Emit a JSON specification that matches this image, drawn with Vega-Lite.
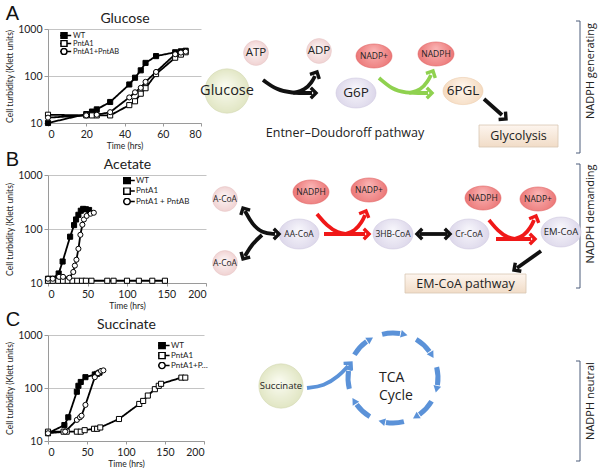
{
"$schema":"https://vega.github.io/schema/vega-lite/v6.json",
"padding":{"left":5,"top":4,"right":0,"bottom":0},
"config":{"view":{"stroke":null},"font":"Lato",
 "axis":{"labelFont":"Lato","titleFont":"Lato","labelColor":"#222","titleColor":"#222","titleFontWeight":"normal","domainColor":"#9a9a9a","tickColor":"#9a9a9a","gridColor":"#c4c4c4"},
 "legend":{"labelFont":"Lato","labelColor":"#222"}},
"datasets":{
 "glucose":[
  {"s":"WT","t":0,"v":10},{"s":"WT","t":20,"v":15.5},{"s":"WT","t":23,"v":17.5},{"s":"WT","t":25.5,"v":19.5},{"s":"WT","t":32.5,"v":28},{"s":"WT","t":42.5,"v":66},{"s":"WT","t":45.5,"v":92},{"s":"WT","t":48.5,"v":132},{"s":"WT","t":51,"v":190},{"s":"WT","t":56.5,"v":265},{"s":"WT","t":66.5,"v":320},{"s":"WT","t":69.5,"v":335},{"s":"WT","t":72,"v":345},
  {"s":"PntA1","t":0,"v":15},{"s":"PntA1","t":20,"v":14.5},{"s":"PntA1","t":23,"v":14.5},{"s":"PntA1","t":25.5,"v":14.5},{"s":"PntA1","t":32.5,"v":14.5},{"s":"PntA1","t":42.5,"v":24},{"s":"PntA1","t":45.5,"v":29},{"s":"PntA1","t":48.5,"v":42},{"s":"PntA1","t":51,"v":55},{"s":"PntA1","t":56.5,"v":110},{"s":"PntA1","t":66.5,"v":245},{"s":"PntA1","t":69.5,"v":285},{"s":"PntA1","t":72,"v":320},
  {"s":"PntA1+PntAB","t":0,"v":13},{"s":"PntA1+PntAB","t":20,"v":14.5},{"s":"PntA1+PntAB","t":25.5,"v":15},{"s":"PntA1+PntAB","t":32.5,"v":17},{"s":"PntA1+PntAB","t":42.5,"v":35},{"s":"PntA1+PntAB","t":45.5,"v":45},{"s":"PntA1+PntAB","t":48.5,"v":56},{"s":"PntA1+PntAB","t":51,"v":75},{"s":"PntA1+PntAB","t":56.5,"v":122},{"s":"PntA1+PntAB","t":66.5,"v":290},{"s":"PntA1+PntAB","t":69.5,"v":315},{"s":"PntA1+PntAB","t":72,"v":330}],
 "acetate":[
  {"s":"WT","t":0,"v":12},{"s":"WT","t":6,"v":12},{"s":"WT","t":13.5,"v":15},{"s":"WT","t":18.5,"v":25},{"s":"WT","t":28,"v":72},{"s":"WT","t":33,"v":118},{"s":"WT","t":35.5,"v":150},{"s":"WT","t":38.5,"v":183},{"s":"WT","t":41.5,"v":218},{"s":"WT","t":44.5,"v":236},{"s":"WT","t":48,"v":232},{"s":"WT","t":52,"v":225},
  {"s":"PntA1","t":0,"v":11},{"s":"PntA1","t":6,"v":11},{"s":"PntA1","t":13,"v":11},{"s":"PntA1","t":19,"v":11},{"s":"PntA1","t":25,"v":11},{"s":"PntA1","t":31,"v":11},{"s":"PntA1","t":37,"v":11},{"s":"PntA1","t":43,"v":11},{"s":"PntA1","t":48,"v":11},{"s":"PntA1","t":55,"v":11},{"s":"PntA1","t":75,"v":11},{"s":"PntA1","t":83,"v":11},{"s":"PntA1","t":100,"v":11},{"s":"PntA1","t":115,"v":11},{"s":"PntA1","t":132,"v":11},{"s":"PntA1","t":148,"v":11},
  {"s":"PntA1 + PntAB","t":0,"v":12},{"s":"PntA1 + PntAB","t":6,"v":12},{"s":"PntA1 + PntAB","t":14,"v":13},{"s":"PntA1 + PntAB","t":19,"v":13},{"s":"PntA1 + PntAB","t":27,"v":12.5},{"s":"PntA1 + PntAB","t":32,"v":16},{"s":"PntA1 + PntAB","t":34,"v":21},{"s":"PntA1 + PntAB","t":36,"v":27},{"s":"PntA1 + PntAB","t":38.5,"v":43},{"s":"PntA1 + PntAB","t":41,"v":78},{"s":"PntA1 + PntAB","t":43.5,"v":120},{"s":"PntA1 + PntAB","t":45.5,"v":150},{"s":"PntA1 + PntAB","t":49,"v":175},{"s":"PntA1 + PntAB","t":54,"v":192},{"s":"PntA1 + PntAB","t":58,"v":200}],
 "succinate":[
  {"s":"WT","t":0,"v":14},{"s":"WT","t":21,"v":20},{"s":"WT","t":26,"v":28},{"s":"WT","t":37,"v":85},{"s":"WT","t":39,"v":110},{"s":"WT","t":42,"v":130},{"s":"WT","t":48,"v":160},{"s":"WT","t":60,"v":180},{"s":"WT","t":63,"v":185},{"s":"WT","t":66,"v":195},
  {"s":"PntA1","t":0,"v":15},{"s":"PntA1","t":20,"v":15},{"s":"PntA1","t":24,"v":15},{"s":"PntA1","t":37,"v":15},{"s":"PntA1","t":42,"v":15},{"s":"PntA1","t":47,"v":16},{"s":"PntA1","t":59,"v":17},{"s":"PntA1","t":63,"v":17},{"s":"PntA1","t":67,"v":18},{"s":"PntA1","t":91,"v":26},{"s":"PntA1","t":117,"v":50},{"s":"PntA1","t":122,"v":57},{"s":"PntA1","t":128,"v":72},{"s":"PntA1","t":137,"v":95},{"s":"PntA1","t":142,"v":110},{"s":"PntA1","t":145,"v":120},{"s":"PntA1","t":171,"v":157},{"s":"PntA1","t":176,"v":157},
  {"s":"PntA1+PntAB","t":0,"v":14},{"s":"PntA1+PntAB","t":22,"v":15},{"s":"PntA1+PntAB","t":37,"v":25},{"s":"PntA1+PntAB","t":41,"v":28},{"s":"PntA1+PntAB","t":43,"v":30},{"s":"PntA1+PntAB","t":48,"v":48},{"s":"PntA1+PntAB","t":60,"v":160},{"s":"PntA1+PntAB","t":64,"v":190},{"s":"PntA1+PntAB","t":68,"v":210},{"s":"PntA1+PntAB","t":71,"v":215}],
 "nodes":[
  {"name":"Glucose","kind":"substrate","x":226,"y":90},
  {"name":"ATP","kind":"energy","x":255,"y":52},
  {"name":"ADP","kind":"energy","x":318,"y":50},
  {"name":"NADP+","kind":"redox","x":373,"y":55},
  {"name":"NADPH","kind":"redox","x":435,"y":53},
  {"name":"G6P","kind":"intermediate","x":355,"y":92},
  {"name":"6PGL","kind":"product","x":462,"y":90},
  {"name":"A-CoA","kind":"energy","x":224,"y":198},
  {"name":"A-CoA","kind":"energy","x":224,"y":262},
  {"name":"AA-CoA","kind":"intermediate","x":298,"y":233},
  {"name":"NADPH","kind":"redox","x":310,"y":191},
  {"name":"NADP+","kind":"redox","x":368,"y":189},
  {"name":"3HB-CoA","kind":"intermediate","x":392,"y":233},
  {"name":"Cr-CoA","kind":"intermediate","x":468,"y":233},
  {"name":"NADPH","kind":"redox","x":482,"y":197},
  {"name":"NADP+","kind":"redox","x":537,"y":198},
  {"name":"EM-CoA","kind":"intermediate","x":560,"y":231},
  {"name":"Succinate","kind":"substrate","x":280,"y":385}],
 "arrows":[
  {"id":"b1","cls":"black","o":0,"x":262,"y":79},{"id":"b1","cls":"black","o":1,"x":276,"y":89},{"id":"b1","cls":"black","o":2,"x":290,"y":92},{"id":"b1","cls":"black","o":3,"x":311,"y":92},
  {"id":"b2","cls":"black","o":0,"x":292,"y":92},{"id":"b2","cls":"black","o":1,"x":304,"y":89},{"id":"b2","cls":"black","o":2,"x":311,"y":81},{"id":"b2","cls":"black","o":3,"x":314,"y":75},
  {"id":"b3","cls":"black","o":0,"x":483,"y":98},{"id":"b3","cls":"black","o":1,"x":501,"y":114},
  {"id":"b4","cls":"black","o":0,"x":244,"y":210},{"id":"b4","cls":"black","o":1,"x":251,"y":223},{"id":"b4","cls":"black","o":2,"x":261,"y":232},{"id":"b4","cls":"black","o":3,"x":274,"y":233},
  {"id":"b5","cls":"black","o":0,"x":244,"y":255},{"id":"b5","cls":"black","o":1,"x":251,"y":243},{"id":"b5","cls":"black","o":2,"x":261,"y":234},
  {"id":"b6","cls":"black","o":0,"x":419,"y":233},{"id":"b6","cls":"black","o":1,"x":446,"y":233},
  {"id":"b7","cls":"black","o":0,"x":540,"y":250},{"id":"b7","cls":"black","o":1,"x":516,"y":267},
  {"id":"r1","cls":"red","o":0,"x":323,"y":233},{"id":"r1","cls":"red","o":1,"x":364,"y":233},
  {"id":"r2","cls":"red","o":0,"x":316,"y":213},{"id":"r2","cls":"red","o":1,"x":326,"y":225},{"id":"r2","cls":"red","o":2,"x":337,"y":232},{"id":"r2","cls":"red","o":3,"x":346,"y":233},
  {"id":"r3","cls":"red","o":0,"x":344,"y":233},{"id":"r3","cls":"red","o":1,"x":354,"y":230},{"id":"r3","cls":"red","o":2,"x":361,"y":221},{"id":"r3","cls":"red","o":3,"x":364,"y":214},
  {"id":"r4","cls":"red","o":0,"x":495,"y":238},{"id":"r4","cls":"red","o":1,"x":530,"y":238},
  {"id":"r5","cls":"red","o":0,"x":488,"y":219},{"id":"r5","cls":"red","o":1,"x":497,"y":230},{"id":"r5","cls":"red","o":2,"x":507,"y":237},{"id":"r5","cls":"red","o":3,"x":515,"y":238},
  {"id":"r6","cls":"red","o":0,"x":513,"y":238},{"id":"r6","cls":"red","o":1,"x":523,"y":235},{"id":"r6","cls":"red","o":2,"x":530,"y":226},{"id":"r6","cls":"red","o":3,"x":533,"y":219},
  {"id":"g1","cls":"green","o":0,"x":378,"y":77},{"id":"g1","cls":"green","o":1,"x":391,"y":88},{"id":"g1","cls":"green","o":2,"x":403,"y":92},{"id":"g1","cls":"green","o":3,"x":427,"y":92},
  {"id":"g2","cls":"green","o":0,"x":408,"y":92},{"id":"g2","cls":"green","o":1,"x":420,"y":89},{"id":"g2","cls":"green","o":2,"x":427,"y":80},{"id":"g2","cls":"green","o":3,"x":430,"y":74},
  {"id":"u1","cls":"blue","o":0,"x":306,"y":387},{"id":"u1","cls":"blue","o":1,"x":323,"y":385},{"id":"u1","cls":"blue","o":2,"x":338,"y":375},{"id":"u1","cls":"blue","o":3,"x":347,"y":365}],
 "heads":[
  {"cls":"black","x":315,"y":92,"ang":90},{"cls":"black","x":316,"y":71,"ang":27},{"cls":"black","x":505,"y":118,"ang":131},
  {"cls":"black","x":242,"y":207,"ang":332},{"cls":"black","x":278,"y":233,"ang":90},{"cls":"black","x":242,"y":258,"ang":210},
  {"cls":"black","x":416,"y":233,"ang":270},{"cls":"black","x":449,"y":233,"ang":90},{"cls":"black","x":513,"y":269,"ang":235},
  {"cls":"red","x":368,"y":233,"ang":90},{"cls":"red","x":365,"y":210,"ang":23},{"cls":"red","x":534,"y":238,"ang":90},{"cls":"red","x":535,"y":215,"ang":23},
  {"cls":"green","x":431,"y":92,"ang":90},{"cls":"green","x":432,"y":70,"ang":27},
  {"cls":"blue","x":350,"y":362,"ang":42}],
 "cycle":[
  {"x":392,"y":377,"a0":-14,"a1":9},{"x":392,"y":377,"a0":31,"a1":54},{"x":392,"y":377,"a0":76,"a1":99},{"x":392,"y":377,"a0":121,"a1":144},
  {"x":392,"y":377,"a0":166,"a1":189},{"x":392,"y":377,"a0":211,"a1":234},{"x":392,"y":377,"a0":256,"a1":279},{"x":392,"y":377,"a0":301,"a1":324}],
 "cycleHeads":[
  {"x":402.1,"y":333.2,"ang":103},{"x":430.2,"y":353.2,"ang":148},{"x":435.8,"y":387.1,"ang":193},{"x":415.8,"y":415.2,"ang":238},
  {"x":381.9,"y":420.8,"ang":283},{"x":353.8,"y":400.8,"ang":328},{"x":348.2,"y":366.9,"ang":13},{"x":368.2,"y":338.8,"ang":58}],
 "boxes":[
  {"t":"Glycolysis","x":478,"x2":557,"y":124,"y2":146,"cx":517.5,"cy":135},
  {"t":"EM-CoA pathway","x":404,"x2":525,"y":273,"y2":292,"cx":464.5,"cy":282.5}],
 "brackets":[
  {"id":1,"o":0,"x":575,"y":20},{"id":1,"o":1,"x":579,"y":20},{"id":1,"o":2,"x":579,"y":152},{"id":1,"o":3,"x":575,"y":152},
  {"id":2,"o":0,"x":575,"y":163},{"id":2,"o":1,"x":579,"y":163},{"id":2,"o":2,"x":579,"y":287},{"id":2,"o":3,"x":575,"y":287},
  {"id":3,"o":0,"x":575,"y":360},{"id":3,"o":1,"x":579,"y":360},{"id":3,"o":2,"x":579,"y":460},{"id":3,"o":3,"x":575,"y":460}],
 "bracketText":[
  {"t":"NADPH generating","x":590,"y":70},{"t":"NADPH demanding","x":590,"y":213},{"t":"NADPH neutral","x":590,"y":400}],
 "freeText":[
  {"t":"Entner–Doudoroff pathway","x":344,"y":132}],
 "tca":[{"t":"TCA\nCycle","x":378,"y":377}]
},
"spacing":-8,
"hconcat":[
 {"vconcat":[
  {"width":153,"height":94,
   "title":{"text":"A","anchor":"start","frame":"bounds","fontSize":20,"font":"Liberation Sans","fontWeight":"normal","color":"#111","offset":-13},
   "data":{"name":"glucose"},
   "resolve":{"axis":{"x":"independent"}},
   "layer":[
    {"mark":{"type":"line","color":"#000","strokeWidth":1.8},
     "encoding":{
      "x":{"field":"t","type":"quantitative","scale":{"domain":[0,80]},"axis":{"values":[0,20,40,60,80],"title":"Time (hrs)","grid":false,"tickSize":3,"labelPadding":3,"labelFontSize":10.5,"titleFontSize":8.5,"titlePadding":2}},
      "y":{"field":"v","type":"quantitative","scale":{"type":"log","domain":[10,1000]},"axis":{"values":[10,100,1000],"format":"d","title":"Cell turbidity (Klett units)","grid":true,"tickSize":4,"labelPadding":2,"labelFontSize":10.5,"titleFontSize":8.5,"titlePadding":3}},
      "detail":{"field":"s"},
      "strokeDash":{"field":"s","type":"nominal","sort":["WT","PntA1","PntA1+PntAB"],"scale":{"range":[[1,0],[1,0],[1,0]]},
       "legend":{"orient":"none","legendX":12,"legendY":3,"title":null,"symbolType":"M-2.4,0H-0.85M0.85,0H2.4","symbolSize":36,"symbolStrokeColor":"#000","symbolStrokeWidth":1.3,"symbolDash":[1,0],"labelFontSize":7.5,"clipHeight":7,"rowPadding":0,"labelOffset":5,"labelExpr":"''"}}}},
    {"mark":{"type":"point","stroke":"#000","strokeWidth":1,"size":26,"opacity":1},
     "encoding":{
      "x":{"field":"t","type":"quantitative","axis":{"orient":"top","title":"Glucose","labels":false,"ticks":false,"domain":false,"grid":false,"titleFontSize":14,"titlePadding":4}},
      "y":{"field":"v","type":"quantitative"},
      "fill":{"field":"s","scale":{"domain":["WT","PntA1","PntA1+PntAB"],"range":["#000","#fff","#fff"]},"legend":null},
      "shape":{"field":"s","scale":{"domain":["WT","PntA1","PntA1+PntAB"],"range":["square","square","circle"]},
       "legend":{"orient":"none","legendX":12,"legendY":3,"title":null,"symbolSize":36,"labelFontSize":7.5,"clipHeight":7,"rowPadding":0,"labelOffset":5,
        "encode":{"symbols":{"fill":{"condition":{"test":"datum.value === 'WT'","value":"#000"},"value":"#fff"},"stroke":{"value":"#000"},"strokeWidth":{"value":1.2}}}}}}}
   ]},
  {"width":158,"height":108,
   "title":{"text":"B","anchor":"start","frame":"bounds","fontSize":20,"font":"Liberation Sans","fontWeight":"normal","color":"#111","offset":-13},
   "data":{"name":"acetate"},
   "resolve":{"axis":{"x":"independent"}},
   "layer":[
    {"mark":{"type":"line","color":"#000","strokeWidth":1.8},
     "encoding":{
      "x":{"field":"t","type":"quantitative","scale":{"domain":[0,200]},"axis":{"values":[0,50,100,150,200],"title":"Time (hrs)","grid":false,"tickSize":3,"labelPadding":3,"labelFontSize":10.5,"titleFontSize":8.5,"titlePadding":2}},
      "y":{"field":"v","type":"quantitative","scale":{"type":"log","domain":[10,1000]},"axis":{"values":[10,100,1000],"format":"d","title":"Cell turbidity (Klett units)","grid":true,"tickSize":4,"labelPadding":2,"labelFontSize":10.5,"titleFontSize":8.5,"titlePadding":3}},
      "detail":{"field":"s"},
      "strokeDash":{"field":"s","type":"nominal","sort":["WT","PntA1","PntA1 + PntAB"],"scale":{"range":[[1,0],[1,0],[1,0]]},
       "legend":{"orient":"none","legendX":75,"legendY":2,"title":null,"symbolType":"M-2.4,0H-0.85M0.85,0H2.4","symbolSize":42,"symbolStrokeColor":"#000","symbolStrokeWidth":1.3,"symbolDash":[1,0],"labelFontSize":8,"clipHeight":7,"rowPadding":1.5,"labelOffset":5,"labelExpr":"''"}}}},
    {"mark":{"type":"point","stroke":"#000","strokeWidth":1,"size":26,"opacity":1},
     "encoding":{
      "x":{"field":"t","type":"quantitative","axis":{"orient":"top","title":"Acetate","labels":false,"ticks":false,"domain":false,"grid":false,"titleFontSize":14,"titlePadding":4}},
      "y":{"field":"v","type":"quantitative"},
      "fill":{"field":"s","scale":{"domain":["WT","PntA1","PntA1 + PntAB"],"range":["#000","#fff","#fff"]},"legend":null},
      "shape":{"field":"s","scale":{"domain":["WT","PntA1","PntA1 + PntAB"],"range":["square","square","circle"]},
       "legend":{"orient":"none","legendX":75,"legendY":2,"title":null,"symbolSize":42,"labelFontSize":8,"clipHeight":7,"rowPadding":1.5,"labelOffset":5,
        "encode":{"symbols":{"fill":{"condition":{"test":"datum.value === 'WT'","value":"#000"},"value":"#fff"},"stroke":{"value":"#000"},"strokeWidth":{"value":1.2}}}}}}}
   ]},
  {"width":156,"height":106,
   "title":{"text":"C","anchor":"start","frame":"bounds","fontSize":20,"font":"Liberation Sans","fontWeight":"normal","color":"#111","offset":-13},
   "data":{"name":"succinate"},
   "resolve":{"axis":{"x":"independent"}},
   "layer":[
    {"mark":{"type":"line","color":"#000","strokeWidth":1.8},
     "encoding":{
      "x":{"field":"t","type":"quantitative","scale":{"domain":[0,200]},"axis":{"values":[0,50,100,150,200],"title":"Time (hrs)","grid":false,"tickSize":3,"labelPadding":3,"labelFontSize":10.5,"titleFontSize":8.5,"titlePadding":2}},
      "y":{"field":"v","type":"quantitative","scale":{"type":"log","domain":[10,1000]},"axis":{"values":[10,100,1000],"format":"d","title":"Cell turbidity (Klett units)","grid":true,"tickSize":4,"labelPadding":2,"labelFontSize":10.5,"titleFontSize":8.5,"titlePadding":3}},
      "detail":{"field":"s"},
      "strokeDash":{"field":"s","type":"nominal","sort":["WT","PntA1","PntA1+PntAB"],"scale":{"range":[[1,0],[1,0],[1,0]]},
       "legend":{"orient":"none","legendX":110,"legendY":7,"title":null,"symbolType":"M-2.4,0H-0.85M0.85,0H2.4","symbolSize":40,"symbolStrokeColor":"#000","symbolStrokeWidth":1.3,"symbolDash":[1,0],"labelFontSize":8,"clipHeight":7,"rowPadding":1,"labelOffset":5,"labelExpr":"''"}}}},
    {"mark":{"type":"point","stroke":"#000","strokeWidth":1,"size":26,"opacity":1},
     "encoding":{
      "x":{"field":"t","type":"quantitative","axis":{"orient":"top","title":"Succinate","labels":false,"ticks":false,"domain":false,"grid":false,"titleFontSize":14,"titlePadding":4}},
      "y":{"field":"v","type":"quantitative"},
      "fill":{"field":"s","scale":{"domain":["WT","PntA1","PntA1+PntAB"],"range":["#000","#fff","#fff"]},"legend":null},
      "shape":{"field":"s","scale":{"domain":["WT","PntA1","PntA1+PntAB"],"range":["square","square","circle"]},
       "legend":{"orient":"none","legendX":110,"legendY":7,"title":null,"symbolSize":40,"labelFontSize":8,"clipHeight":7,"rowPadding":1,"labelOffset":5,"labelLimit":38,
        "encode":{"symbols":{"fill":{"condition":{"test":"datum.value === 'WT'","value":"#000"},"value":"#fff"},"stroke":{"value":"#000"},"strokeWidth":{"value":1.2}}}}}}}
   ]}
 ],"spacing":0,
 "resolve":{"scale":{"shape":"independent","fill":"independent","strokeDash":"independent"},"legend":{"shape":"independent","fill":"independent","strokeDash":"independent"}}},
 {"width":374,"height":440,
  "encoding":{
   "x":{"field":"x","type":"quantitative","scale":{"domain":[226,600],"nice":false,"zero":false},"axis":null},
   "y":{"field":"y","type":"quantitative","scale":{"domain":[28,468],"nice":false,"zero":false,"reverse":true},"axis":null}},
  "layer":[
   {"data":{"name":"brackets"},"mark":{"type":"line","color":"#4d5d7b","strokeWidth":1},
    "encoding":{"detail":{"field":"id"},"order":{"field":"o"}}},
   {"data":{"name":"bracketText"},"mark":{"type":"text","angle":270,"align":"center","baseline":"middle","font":"Open Sans","fontSize":11,"color":"#222"},
    "encoding":{"text":{"field":"t"}}},
   {"data":{"name":"boxes"},"mark":{"type":"rect","stroke":"#d8c6b2","strokeWidth":0.8,"fill":{"gradient":"linear","x1":0,"y1":0,"x2":0,"y2":1,"stops":[{"offset":0,"color":"#fdf5ee"},{"offset":1,"color":"#f1dcc7"}]}},
    "encoding":{"x2":{"field":"x2"},"y2":{"field":"y2"}}},
   {"data":{"name":"boxes"},"mark":{"type":"text","align":"center","baseline":"middle","font":"Open Sans","fontSize":12.5,"color":"#222"},
    "encoding":{"x":{"field":"cx","type":"quantitative"},"y":{"field":"cy","type":"quantitative"},"text":{"field":"t"}}},
   {"data":{"name":"nodes"},"transform":[{"filter":"datum.kind === 'substrate'"}],
    "mark":{"type":"point","shape":"circle","size":1963,"filled":true,"opacity":1,"stroke":"#d4d9b4","strokeWidth":0.6,"fill":{"gradient":"radial","x1":0.45,"y1":0.4,"r1":0,"x2":0.5,"y2":0.5,"r2":0.55,"stops":[{"offset":0,"color":"#fbfcf2"},{"offset":1,"color":"#dfe4c0"}]}}},
   {"data":{"name":"nodes"},"transform":[{"filter":"datum.kind === 'energy'"}],
    "mark":{"type":"point","shape":"circle","size":616,"filled":true,"opacity":1,"stroke":"#e8c8c8","strokeWidth":0.6,"fill":{"gradient":"radial","x1":0.45,"y1":0.4,"r1":0,"x2":0.5,"y2":0.5,"r2":0.55,"stops":[{"offset":0,"color":"#fdf7f7"},{"offset":1,"color":"#efcfcf"}]}}},
   {"data":{"name":"nodes"},"transform":[{"filter":"datum.kind === 'redox'"}],
    "mark":{"type":"point","shape":"M-1,0A1,0.667,0,1,1,1,0A1,0.667,0,1,1,-1,0Z","size":1296,"filled":true,"opacity":1,"stroke":"#e06262","strokeWidth":0.6,"fill":{"gradient":"radial","x1":0.5,"y1":0.35,"r1":0,"x2":0.5,"y2":0.5,"r2":0.6,"stops":[{"offset":0,"color":"#fab4b4"},{"offset":1,"color":"#e86a6a"}]}}},
   {"data":{"name":"nodes"},"transform":[{"filter":"datum.kind === 'intermediate'"}],
    "mark":{"type":"point","shape":"M-1,0A1,0.75,0,1,1,1,0A1,0.75,0,1,1,-1,0Z","size":1600,"filled":true,"opacity":1,"stroke":"#d0cae0","strokeWidth":0.6,"fill":{"gradient":"radial","x1":0.5,"y1":0.4,"r1":0,"x2":0.5,"y2":0.5,"r2":0.6,"stops":[{"offset":0,"color":"#f8f7fc"},{"offset":1,"color":"#d6d0e6"}]}}},
   {"data":{"name":"nodes"},"transform":[{"filter":"datum.kind === 'product'"}],
    "mark":{"type":"point","shape":"M-1,0A1,0.68,0,1,1,1,0A1,0.68,0,1,1,-1,0Z","size":1600,"filled":true,"opacity":1,"stroke":"#ecccac","strokeWidth":0.6,"fill":{"gradient":"radial","x1":0.5,"y1":0.4,"r1":0,"x2":0.5,"y2":0.5,"r2":0.6,"stops":[{"offset":0,"color":"#fff7ee"},{"offset":1,"color":"#f2d3b4"}]}}},
   {"data":{"name":"arrows"},"mark":{"type":"line","interpolate":"basis","strokeWidth":3.8},
    "encoding":{"detail":{"field":"id"},"order":{"field":"o"},"color":{"field":"cls","type":"nominal","scale":{"domain":["black","red","green","blue"],"range":["#111111","#f01818","#8fd14f","#5b92d8"]},"legend":null}}},
   {"data":{"name":"heads"},"mark":{"type":"point","shape":"M-1,1L0,0L1,1","size":110,"filled":false,"opacity":1,"strokeWidth":3.4,"strokeJoin":"miter"},
    "encoding":{"angle":{"field":"ang","type":"quantitative","scale":null},"color":{"field":"cls","type":"nominal","scale":{"domain":["black","red","green","blue"],"range":["#111111","#f01818","#8fd14f","#5b92d8"]},"legend":null}}},
   {"data":{"name":"cycle"},"mark":{"type":"arc","radius":47.5,"radius2":42.5,"color":"#5b92d8"},
    "encoding":{"theta":{"field":"a0","type":"quantitative","stack":null,"scale":{"domain":[0,360],"range":[0,6.283185307]}},"theta2":{"field":"a1"}}},
   {"data":{"name":"cycleHeads"},"mark":{"type":"point","shape":"triangle","size":60,"filled":true,"opacity":1,"color":"#5b92d8"},
    "encoding":{"angle":{"field":"ang","type":"quantitative","scale":null}}},
   {"data":{"name":"tca"},"mark":{"type":"text","align":"left","baseline":"middle","lineBreak":"\n","lineHeight":18,"font":"Open Sans","fontSize":14,"color":"#222"},
    "encoding":{"text":{"field":"t"}}},
   {"data":{"name":"freeText"},"mark":{"type":"text","align":"center","baseline":"middle","font":"Open Sans","fontSize":12.5,"color":"#222"},
    "encoding":{"text":{"field":"t"}}},
   {"data":{"name":"nodes"},"transform":[{"filter":"datum.name === 'Glucose'"}],"mark":{"type":"text","align":"center","baseline":"middle","font":"Open Sans","fontSize":14.5,"color":"#222"},"encoding":{"text":{"field":"name"}}},
   {"data":{"name":"nodes"},"transform":[{"filter":"indexof(['G6P','6PGL'], datum.name) >= 0"}],"mark":{"type":"text","align":"center","baseline":"middle","font":"Open Sans","fontSize":13.5,"color":"#222"},"encoding":{"text":{"field":"name"}}},
   {"data":{"name":"nodes"},"transform":[{"filter":"indexof(['ATP','ADP'], datum.name) >= 0"}],"mark":{"type":"text","align":"center","baseline":"middle","font":"Open Sans","fontSize":11.5,"color":"#222"},"encoding":{"text":{"field":"name"}}},
   {"data":{"name":"nodes"},"transform":[{"filter":"indexof(['EM-CoA','Succinate'], datum.name) >= 0"}],"mark":{"type":"text","align":"center","baseline":"middle","font":"Open Sans","fontSize":9.5,"color":"#222"},"encoding":{"text":{"field":"name"}}},
   {"data":{"name":"nodes"},"transform":[{"filter":"indexof(['NADP+','NADPH','A-CoA','AA-CoA','3HB-CoA','Cr-CoA'], datum.name) >= 0"}],"mark":{"type":"text","align":"center","baseline":"middle","font":"Open Sans","fontSize":8.5,"color":"#222"},"encoding":{"text":{"field":"name"}}}
  ]}
]
}
